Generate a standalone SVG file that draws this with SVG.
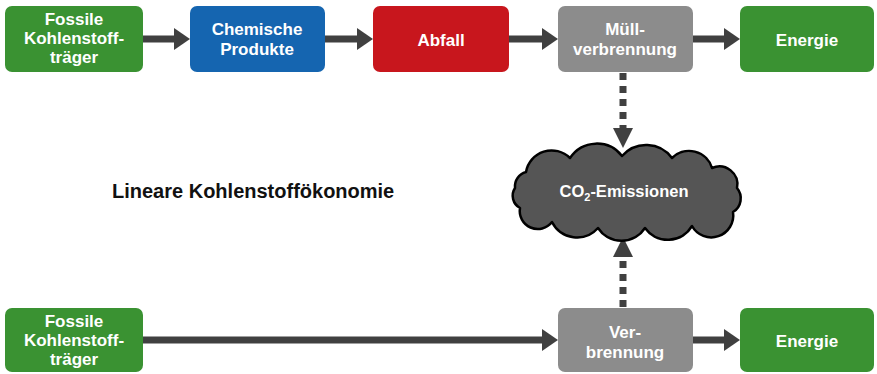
<svg xmlns="http://www.w3.org/2000/svg" width="877" height="374" viewBox="0 0 877 374">
<defs>
<style>
.box{stroke:none}
.g{fill:#3a9232}
.b{fill:#1565b0}
.r{fill:#c8161d}
.gr{fill:#8c8c8c}
.t{font-family:"Liberation Sans",Arial,sans-serif;font-weight:bold;font-size:17px;fill:#ffffff;text-anchor:middle}
.ct{font-family:"Liberation Sans",Arial,sans-serif;font-weight:bold;font-size:16.5px;fill:#ffffff;text-anchor:middle}
.lbl{font-family:"Liberation Sans",Arial,sans-serif;font-weight:bold;font-size:20px;fill:#111111}
.conn{stroke:#404040;stroke-width:7;fill:none}
.dash{stroke:#404040;stroke-width:7;fill:none;stroke-dasharray:7 6}
.head{fill:#404040}
</style>
</defs>
<rect width="877" height="374" fill="#ffffff"/>

<g id="connectors">
  <line class="conn" x1="143" y1="39" x2="176" y2="39"/>
  <polygon class="head" points="174,28 190,39 174,50"/>
  <line class="conn" x1="325" y1="39" x2="359" y2="39"/>
  <polygon class="head" points="357,28 373,39 357,50"/>
  <line class="conn" x1="509" y1="39" x2="544" y2="39"/>
  <polygon class="head" points="542,28 558,39 542,50"/>
  <line class="conn" x1="693" y1="39" x2="726" y2="39"/>
  <polygon class="head" points="724,28 740,39 724,50"/>

  <line class="dash" x1="623" y1="73" x2="623" y2="128"/>
  <polygon class="head" points="613,128 633,128 623,148"/>
  <line class="dash" x1="623" y1="307" x2="623" y2="257"/>
  <polygon class="head" points="613,257 633,257 623,237"/>

  <line class="conn" x1="143" y1="340" x2="544" y2="340"/>
  <polygon class="head" points="542,329 558,340 542,351"/>
  <line class="conn" x1="693" y1="340" x2="726" y2="340"/>
  <polygon class="head" points="724,329 740,340 724,351"/>
</g>

<g id="fossil-top">
  <rect class="box g" x="5" y="6" width="138" height="66" rx="7"/>
  <text class="t" x="74" y="25">Fossile</text>
  <text class="t" x="74" y="44">Kohlenstoff-</text>
  <text class="t" x="74" y="63">träger</text>
</g>
<g id="chemische-produkte">
  <rect class="box b" x="190" y="6" width="135" height="66" rx="7"/>
  <text class="t" x="257" y="35">Chemische</text>
  <text class="t" x="257" y="55">Produkte</text>
</g>
<g id="abfall">
  <rect class="box r" x="373" y="6" width="136" height="66" rx="7"/>
  <text class="t" x="441" y="46">Abfall</text>
</g>
<g id="muellverbrennung">
  <rect class="box gr" x="558" y="6" width="135" height="66" rx="7"/>
  <text class="t" x="625" y="35">Müll-</text>
  <text class="t" x="625" y="55">verbrennung</text>
</g>
<g id="energie-top">
  <rect class="box g" x="740" y="6" width="134" height="66" rx="7"/>
  <text class="t" x="807" y="46">Energie</text>
</g>

<g id="co2-emissionen">
  <path d="M526,172 A26,26 0 0 1 570,158 A32,32 0 0 1 622,156 A32,32 0 0 1 672,158 A24,24 0 0 1 712,168 A18,18 0 0 1 737,188 A16,16 0 0 1 733,212 A22,22 0 0 1 692,226 A28,28 0 0 1 645,228 A28,28 0 0 1 598,228 A28,28 0 0 1 552,222 A18,18 0 0 1 520,208 A14,14 0 0 1 515,188 A15,15 0 0 1 526,172 Z" fill="#555555" stroke="#000000" stroke-width="2.5" stroke-linejoin="round"/>
  <text class="ct" x="624" y="197">CO<tspan font-size="11" dy="4">2</tspan><tspan dy="-4">-Emissionen</tspan></text>
</g>

<g id="title">
  <text class="lbl" x="112" y="198">Lineare Kohlenstoffökonomie</text>
</g>

<g id="fossil-bottom">
  <rect class="box g" x="5" y="308" width="138" height="64" rx="7"/>
  <text class="t" x="74" y="327">Fossile</text>
  <text class="t" x="74" y="346">Kohlenstoff-</text>
  <text class="t" x="74" y="365">träger</text>
</g>
<g id="verbrennung">
  <rect class="box gr" x="558" y="308" width="135" height="64" rx="7"/>
  <text class="t" x="625" y="338">Ver-</text>
  <text class="t" x="625" y="358">brennung</text>
</g>
<g id="energie-bottom">
  <rect class="box g" x="740" y="308" width="134" height="64" rx="7"/>
  <text class="t" x="807" y="347">Energie</text>
</g>
</svg>
